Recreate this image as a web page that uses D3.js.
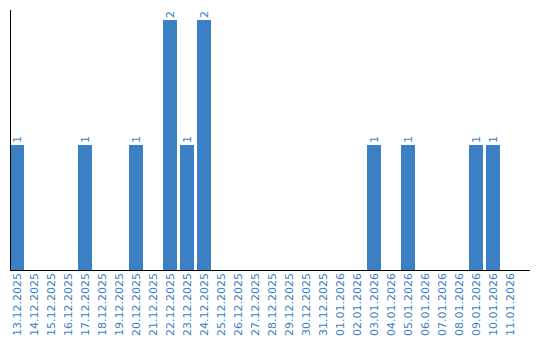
<!DOCTYPE html>
<html>
<head>
<meta charset="utf-8">
<script src="https://cdn.jsdelivr.net/npm/d3@7"></script>
<style>
  body { margin: 0; background: #fff; }
  svg { display: block; }
</style>
</head>
<body>
<svg id="chart" width="540" height="340"></svg>
<script>
const dates = [
    "13.12.2025", "14.12.2025", "15.12.2025", "16.12.2025", "17.12.2025",
    "18.12.2025", "19.12.2025", "20.12.2025", "21.12.2025", "22.12.2025",
    "23.12.2025", "24.12.2025", "25.12.2025", "26.12.2025", "27.12.2025",
    "28.12.2025", "29.12.2025", "30.12.2025", "31.12.2025", "01.01.2026",
    "02.01.2026", "03.01.2026", "04.01.2026", "05.01.2026", "06.01.2026",
    "07.01.2026", "08.01.2026", "09.01.2026", "10.01.2026", "11.01.2026"
];
const counts = [1, 0, 0, 0, 1, 0, 0, 1, 0, 2, 1, 2, 0, 0, 0, 0, 0, 0, 0, 0, 0, 1, 0, 1, 0, 0, 0, 1, 1, 0];

const barColor = "#3b7fc4";
const font = "DejaVu Sans, Verdana, sans-serif";

function drawBarChart() {
    const svg = d3.select("#chart");
    const left = 10, bottom = 270, top = 10, right = 530;

    const xScale = d3.scaleBand()
        .domain(dates)
        .range([left, left + dates.length * 17]);

    const yScale = d3.scaleLinear()
        .domain([0, 2.08])
        .range([bottom, top]);

    const data = dates.map((d, i) => ({ date: d, value: counts[i] }));

    // bars
    svg.append("g")
        .selectAll("rect")
        .data(data)
        .join("rect")
        .attr("x", d => xScale(d.date))
        .attr("y", d => yScale(d.value))
        .attr("width", xScale.bandwidth() - 3)
        .attr("height", d => bottom - yScale(d.value))
        .attr("fill", barColor);

    // value labels, rotated
    svg.append("g")
        .selectAll("text")
        .data(data.filter(d => d.value > 0))
        .join("text")
        .attr("transform", d => `translate(${xScale(d.date) + (xScale.bandwidth() - 3) / 2 + 4},${yScale(d.value) - 2}) rotate(-90)`)
        .attr("font-family", font)
        .attr("font-size", "11px")
        .attr("fill", barColor)
        .text(d => d.value);

    // axes lines
    svg.append("line")
        .attr("x1", left + 0.5).attr("x2", left + 0.5)
        .attr("y1", top).attr("y2", bottom)
        .attr("stroke", "#000");

    svg.append("line")
        .attr("x1", left).attr("x2", right)
        .attr("y1", bottom + 0.5).attr("y2", bottom + 0.5)
        .attr("stroke", "#000");

    // date labels
    svg.append("g")
        .selectAll("text")
        .data(dates)
        .join("text")
        .attr("transform", d => `translate(${xScale(d) + (xScale.bandwidth() - 3) / 2 + 4},${bottom + 3}) rotate(-90)`)
        .attr("text-anchor", "end")
        .attr("font-family", font)
        .attr("font-size", "11px")
        .attr("fill", barColor)
        .text(d => d);
}

drawBarChart();
</script>
</body>
</html>
